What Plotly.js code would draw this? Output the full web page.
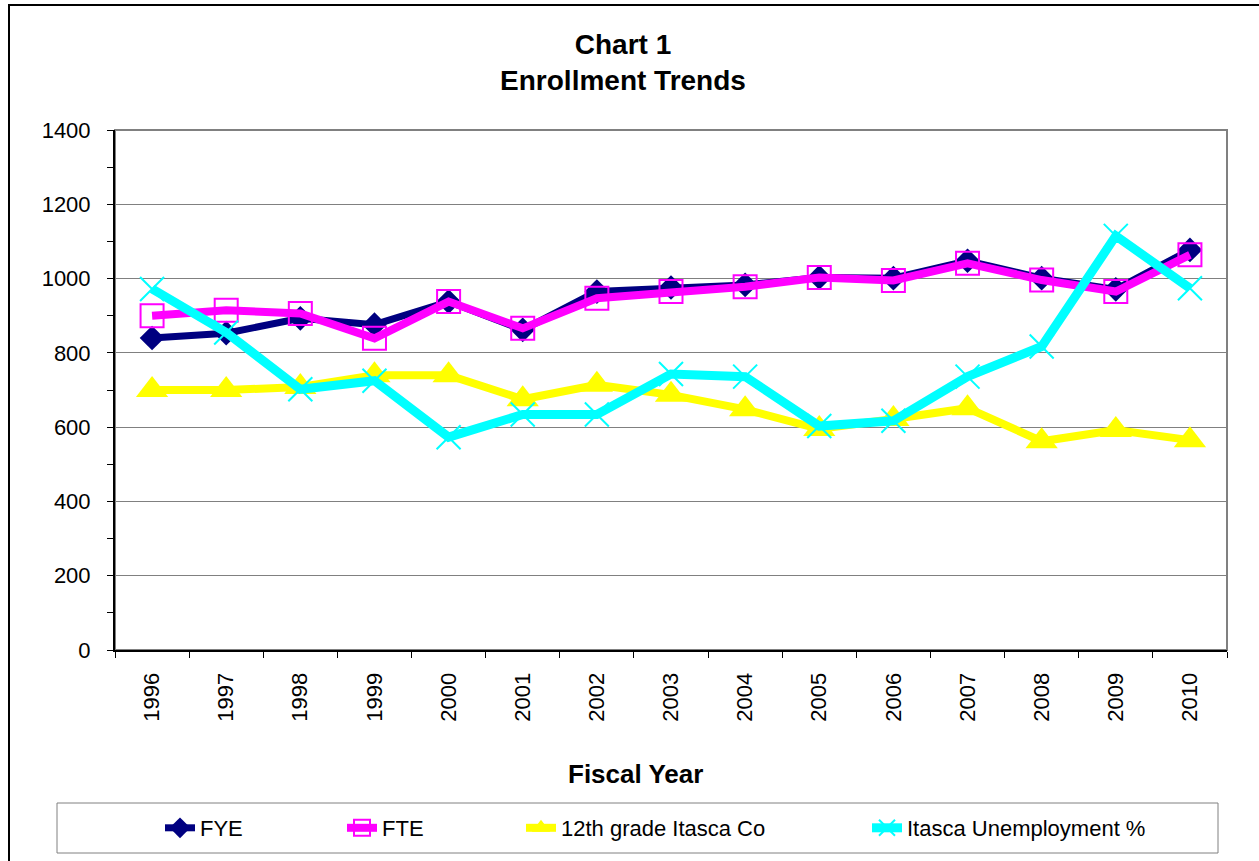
<!DOCTYPE html>
<html>
<head>
<meta charset="utf-8">
<script src="https://cdn.plot.ly/plotly-3.0.1.min.js"></script>
<style>
  html, body { margin: 0; padding: 0; background: #fff; }
  #chart { width: 1259px; height: 861px; }
</style>
</head>
<body>
<div id="chart"></div>
<script>
// ---- data ----
const years = ['1996','1997','1998','1999','2000','2001','2002','2003','2004','2005','2006','2007','2008','2009','2010'];
const fye = [840, 853, 893, 876, 938, 862, 965, 976, 983, 1003, 1001, 1048, 1001, 971, 1077];
const fte = [900, 915, 906, 839, 938, 866, 947, 965, 978, 1003, 995, 1041, 996, 965, 1064];
const grade12 = [700, 700, 708, 740, 740, 675, 714, 687, 648, 595, 622, 651, 562, 592, 565];
const unemp = [972, 855, 702, 725, 573, 634, 634, 743, 736, 603, 617, 736, 817, 1115, 974];
const seriesNames = ['FYE', 'FTE', '12th grade Itasca Co', 'Itasca Unemployment %'];
const yTicks = [0, 200, 400, 600, 800, 1000, 1200, 1400];

// ---- geometry helpers (plot area in pixels) ----
const W = 1259, H = 861;
const L = 115, R = 1227, T = 130, B = 650;
const px = x => (x - L) / (R - L);
const py = y => (B - y) / (B - T);

const FONT = 'Liberation Sans, Arial, sans-serif';

const traces = [
  {
    x: years, y: fye, name: seriesNames[0], type: 'scatter', mode: 'lines+markers',
    line: {color: '#000080', width: 7},
    marker: {symbol: 'diamond', size: 19, color: '#000080'},
    legend: 'legend'
  },
  {
    x: years, y: fte, name: seriesNames[1], type: 'scatter', mode: 'lines+markers',
    line: {color: '#FF00FF', width: 8},
    marker: {symbol: 'square-open', size: 23, color: '#FF00FF', line: {color: '#FF00FF', width: 2}},
    legend: 'legend2'
  },
  {
    x: years, y: grade12, name: seriesNames[2], type: 'scatter', mode: 'lines+markers',
    line: {color: '#FFFF00', width: 8},
    marker: {symbol: 'triangle-up', size: 28, color: '#FFFF00'},
    legend: 'legend3'
  },
  {
    x: years, y: unemp, name: seriesNames[3], type: 'scatter', mode: 'lines+markers',
    line: {color: '#00FFFF', width: 9},
    marker: {symbol: 'x-thin', size: 24, color: '#00FFFF', line: {color: '#00FFFF', width: 2}},
    legend: 'legend4'
  }
];

const legendBase = {
  orientation: 'h', xanchor: 'left', yanchor: 'middle', y: py(828),
  bgcolor: 'rgba(0,0,0,0)', borderwidth: 0,
  font: {family: FONT, size: 22, color: '#000'}
};

const layout = {
  width: W, height: H,
  paper_bgcolor: '#fff', plot_bgcolor: '#fff',
  margin: {l: L, r: W - R, t: T, b: H - B, pad: 0},
  font: {family: FONT, color: '#000'},
  title: {
    text: '<b>Chart 1</b><br><b>Enrollment Trends</b>',
    font: {family: FONT, size: 28, color: '#000'},
    x: 623 / W, xref: 'container', xanchor: 'center',
    y: 1 - 54 / H, yref: 'container', yanchor: 'top'
  },
  showlegend: true,
  legend: Object.assign({}, legendBase, {x: px(160)}),
  legend2: Object.assign({}, legendBase, {x: px(342)}),
  legend3: Object.assign({}, legendBase, {x: px(521)}),
  legend4: Object.assign({}, legendBase, {x: px(867)}),
  xaxis: {
    type: 'category',
    range: [-0.5, 14.5],
    tickangle: -90,
    tickson: 'boundaries',
    ticks: 'outside', ticklen: 6, tickwidth: 1, tickcolor: '#000',
    ticklabelstandoff: 12,
    showline: true, linecolor: '#000', linewidth: 2,
    showgrid: false, zeroline: false,
    tickfont: {family: FONT, size: 22, color: '#000'},
    fixedrange: true
  },
  yaxis: {
    range: [0, 1400],
    tickvals: yTicks,
    ticktext: yTicks.map(String),
    ticks: 'outside', ticklen: 6, tickwidth: 1, tickcolor: '#000',
    ticklabelstandoff: 12,
    minor: {dtick: 100, tick0: 0, ticks: 'outside', ticklen: 6, tickwidth: 1, tickcolor: '#000', showgrid: false},
    showline: true, linecolor: '#000', linewidth: 2,
    showgrid: true, gridcolor: '#808080', gridwidth: 1,
    zeroline: false,
    tickfont: {family: FONT, size: 22, color: '#000'},
    fixedrange: true
  },
  annotations: [
    {
      text: '<b>Fiscal Year</b>', xref: 'paper', yref: 'paper',
      x: px(635), y: py(774), xanchor: 'center', yanchor: 'middle',
      showarrow: false, font: {family: FONT, size: 26, color: '#000'}
    }
  ],
  shapes: [
    // plot area border (grey)
    {type: 'rect', xref: 'paper', yref: 'paper', x0: 0, x1: 1, y0: 0, y1: 1,
     line: {color: '#808080', width: 2}, layer: 'below'},
    // legend box
    {type: 'rect', xref: 'paper', yref: 'paper', x0: px(57), x1: px(1218), y0: py(853), y1: py(803),
     line: {color: '#808080', width: 1}, fillcolor: 'rgba(0,0,0,0)', layer: 'below'},
    // outer chart frame
    {type: 'rect', xref: 'paper', yref: 'paper', x0: px(9), x1: px(1275), y0: py(880), y1: py(5),
     line: {color: '#000', width: 2}, fillcolor: 'rgba(0,0,0,0)', layer: 'below'}
  ]
};

Plotly.newPlot('chart', traces, layout, {displayModeBar: false, staticPlot: true});
</script>
</body>
</html>
